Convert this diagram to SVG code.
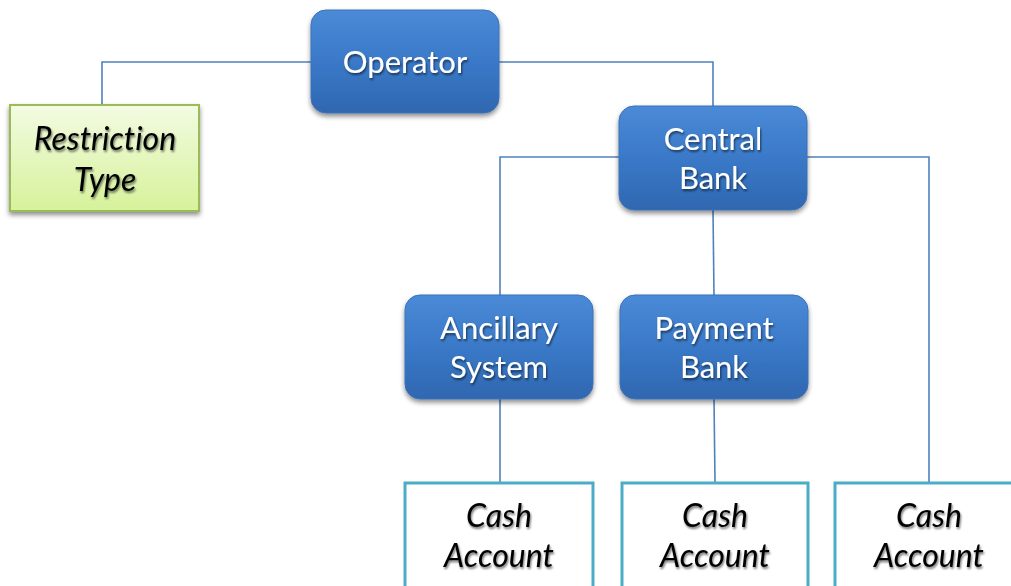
<svg xmlns="http://www.w3.org/2000/svg" width="1011" height="586" viewBox="0 0 1011 586">
<defs>
<linearGradient id="blue" x1="0" y1="0" x2="0" y2="1">
<stop offset="0" stop-color="#4a8ad6"/>
<stop offset="0.5" stop-color="#3a79c8"/>
<stop offset="1" stop-color="#2f67b0"/>
</linearGradient>
<linearGradient id="green" x1="0" y1="0" x2="0" y2="1">
<stop offset="0" stop-color="#f3fbe2"/>
<stop offset="1" stop-color="#d6f29a"/>
</linearGradient>
<filter id="sh" x="-10%" y="-10%" width="125%" height="130%">
<feGaussianBlur in="SourceAlpha" stdDeviation="2.5"/>
<feOffset dx="0" dy="3" result="b"/>
<feComponentTransfer><feFuncA type="linear" slope="0.45"/></feComponentTransfer>
<feMerge><feMergeNode/><feMergeNode in="SourceGraphic"/></feMerge>
</filter>
<filter id="tsh" x="-10%" y="-20%" width="125%" height="150%">
<feGaussianBlur in="SourceAlpha" stdDeviation="1"/>
<feOffset dx="1" dy="1.5"/>
<feComponentTransfer><feFuncA type="linear" slope="0.55"/></feComponentTransfer>
<feMerge><feMergeNode/><feMergeNode in="SourceGraphic"/></feMerge>
</filter>
</defs>
<style>
.conn{fill:none;stroke:#4f81bd;stroke-width:1.6}
.bn{fill:url(#blue);stroke:#3b72b8;stroke-width:1;filter:url(#sh)}
.gn{fill:url(#green);stroke:#9bbb59;stroke-width:2;filter:url(#sh)}
.cn{fill:#ffffff;stroke:#4bacc6;stroke-width:3}
.wt{font-family:"Lato","Open Sans",sans-serif;font-size:31px;fill:#ffffff;text-anchor:middle;filter:url(#tsh);font-variant-ligatures:none}
.it{font-family:"Lato","Open Sans",sans-serif;font-size:32px;font-style:italic;fill:#000000;text-anchor:middle;filter:url(#tsh);font-variant-ligatures:none}
</style>
<rect width="1011" height="586" fill="#ffffff"/>
<g id="connectors">
<polyline class="conn" points="311,62 102,62 102,105"/>
<polyline class="conn" points="499,62 713,62 713,106"/>
<polyline class="conn" points="619,157 500,157 500,295"/>
<polyline class="conn" points="807,157 929,157 929,482"/>
<polyline class="conn" points="713,210 714,295"/>
<polyline class="conn" points="500,399 500,482"/>
<polyline class="conn" points="714,399 715,482"/>
</g>
<g id="operator">
<rect class="bn" x="311" y="10" width="188" height="103" rx="15"/>
<text class="wt" x="405" y="73">Operator</text>
</g>
<g id="restriction-type">
<rect class="gn" x="10" y="105" width="189" height="106"/>
<text class="it" x="105" y="150">Restriction</text>
<text class="it" x="105" y="191">Type</text>
</g>
<g id="central-bank">
<rect class="bn" x="619" y="106" width="188" height="104" rx="15"/>
<text class="wt" x="713" y="150">Central</text>
<text class="wt" x="713" y="189">Bank</text>
</g>
<g id="ancillary-system">
<rect class="bn" x="405" y="295" width="188" height="104" rx="15"/>
<text class="wt" x="499" y="339">Ancillary</text>
<text class="wt" x="499" y="378">System</text>
</g>
<g id="payment-bank">
<rect class="bn" x="620" y="295" width="188" height="104" rx="15"/>
<text class="wt" x="714" y="339">Payment</text>
<text class="wt" x="714" y="378">Bank</text>
</g>
<g id="cash-account-1">
<rect class="cn" x="405" y="483" width="188" height="110"/>
<text class="it" x="499" y="527">Cash</text>
<text class="it" x="499" y="567">Account</text>
</g>
<g id="cash-account-2">
<rect class="cn" x="622" y="483" width="186" height="110"/>
<text class="it" x="715" y="527">Cash</text>
<text class="it" x="715" y="567">Account</text>
</g>
<g id="cash-account-3">
<rect class="cn" x="835" y="483" width="190" height="110"/>
<text class="it" x="929" y="527">Cash</text>
<text class="it" x="929" y="567">Account</text>
</g>
</svg>
